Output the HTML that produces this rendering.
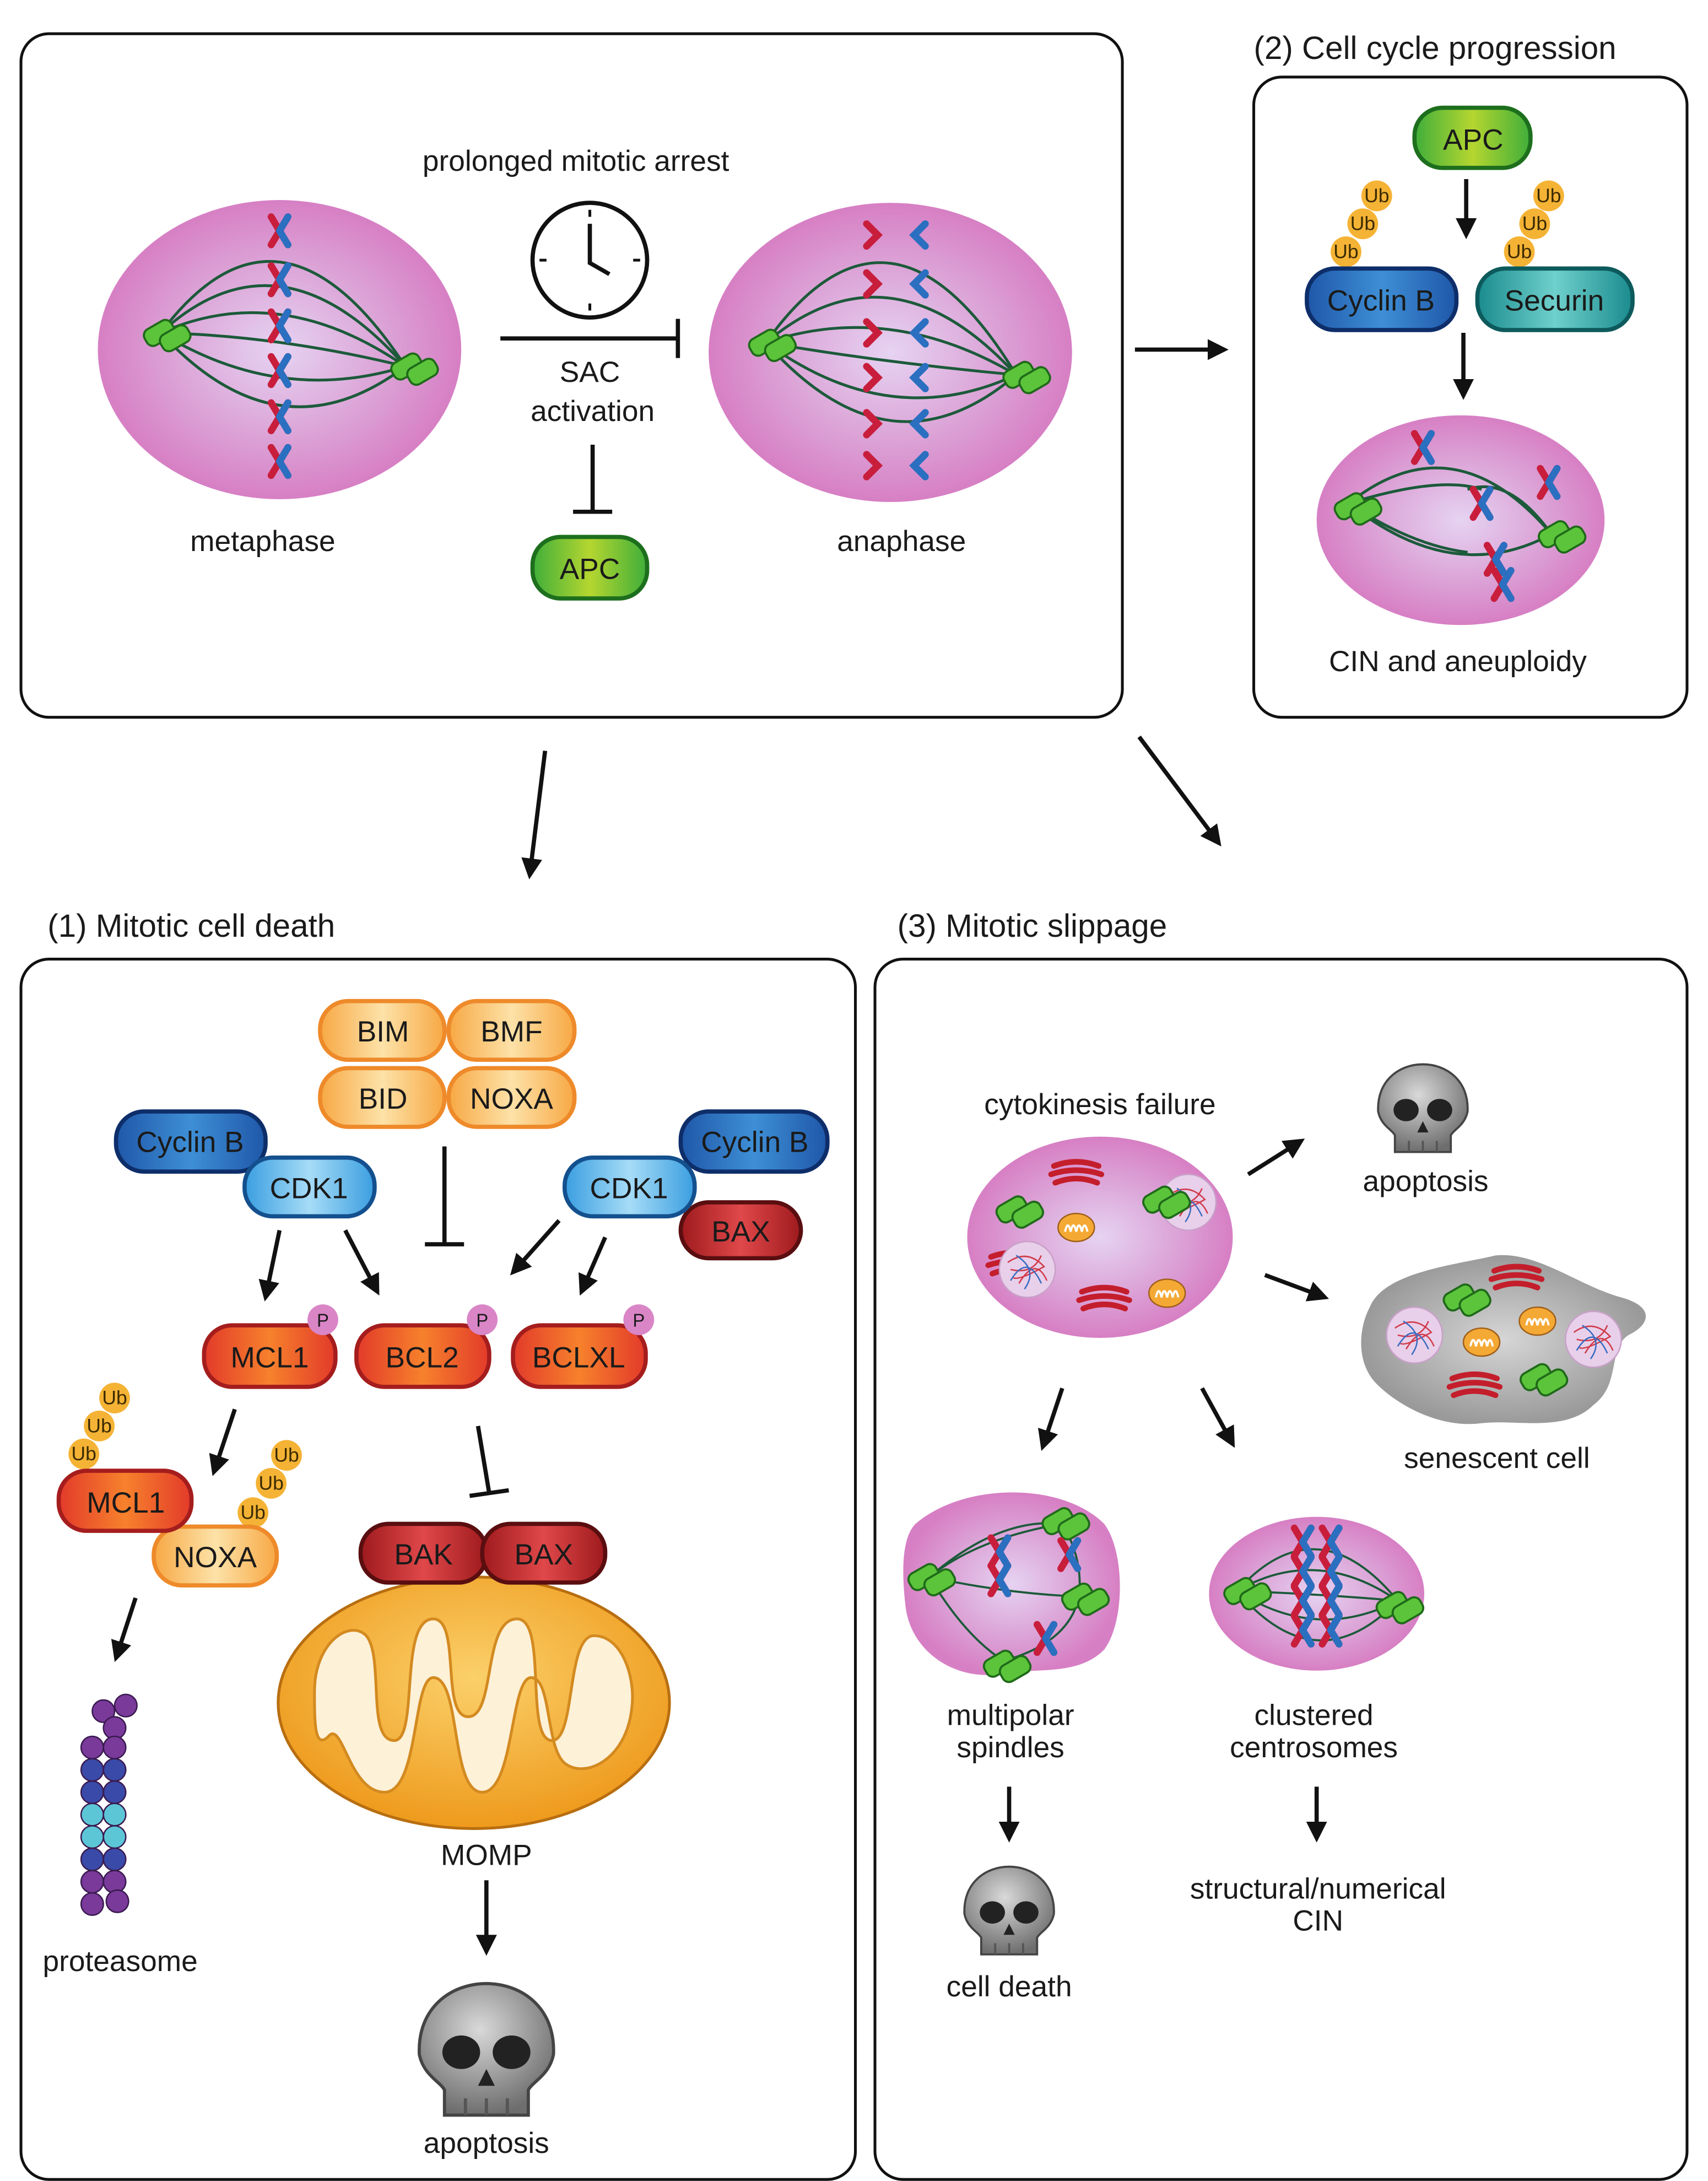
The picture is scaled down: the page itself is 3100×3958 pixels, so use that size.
<!DOCTYPE html>
<html><head><meta charset="utf-8"><style>
html,body{margin:0;padding:0;background:#fff}
svg{display:block}
text{font-family:"Liberation Sans",sans-serif;fill:#1a1a1a}
</style></head><body>
<svg width="3100" height="3958" viewBox="0 0 1222 1560" xmlns="http://www.w3.org/2000/svg">
<defs>
<radialGradient id="cell" cx="50%" cy="50%" r="50%"><stop offset="0" stop-color="#e6d3f2"/><stop offset="0.55" stop-color="#dca6d8"/><stop offset="1" stop-color="#d77fc4"/></radialGradient>
<radialGradient id="grey" cx="50%" cy="50%" r="50%"><stop offset="0" stop-color="#d6d6d6"/><stop offset="1" stop-color="#9a9a9a"/></radialGradient>
<linearGradient id="green" x1="0" x2="1"><stop offset="0" stop-color="#3fae3a"/><stop offset="0.5" stop-color="#b5d630"/><stop offset="1" stop-color="#3fae3a"/></linearGradient>
<linearGradient id="blue" x1="0" x2="1"><stop offset="0" stop-color="#1f57a8"/><stop offset="0.5" stop-color="#3e8fd6"/><stop offset="1" stop-color="#1f57a8"/></linearGradient>
<linearGradient id="lblue" x1="0" x2="1"><stop offset="0" stop-color="#3a9ee0"/><stop offset="0.5" stop-color="#a6dcf7"/><stop offset="1" stop-color="#3a9ee0"/></linearGradient>
<linearGradient id="teal" x1="0" x2="1"><stop offset="0" stop-color="#1a8b8e"/><stop offset="0.5" stop-color="#6fd0cc"/><stop offset="1" stop-color="#1a8b8e"/></linearGradient>
<linearGradient id="orange" x1="0" x2="1"><stop offset="0" stop-color="#f7a844"/><stop offset="0.5" stop-color="#fde2a8"/><stop offset="1" stop-color="#f7a844"/></linearGradient>
<linearGradient id="redor" x1="0" x2="1"><stop offset="0" stop-color="#e23a2a"/><stop offset="0.5" stop-color="#f7812c"/><stop offset="1" stop-color="#e23a2a"/></linearGradient>
<linearGradient id="red" x1="0" x2="1"><stop offset="0" stop-color="#9e1a1d"/><stop offset="0.5" stop-color="#e0484a"/><stop offset="1" stop-color="#9e1a1d"/></linearGradient>
<radialGradient id="mito" cx="50%" cy="40%" r="60%"><stop offset="0" stop-color="#fbd06a"/><stop offset="1" stop-color="#ee9a1c"/></radialGradient>
<radialGradient id="skull" cx="45%" cy="35%" r="65%"><stop offset="0" stop-color="#d9d9d9"/><stop offset="1" stop-color="#6e6e6e"/></radialGradient>
<marker id="ar" viewBox="0 0 10 10" refX="8" refY="5" markerWidth="5" markerHeight="5" orient="auto"><path d="M0,0 L10,5 L0,10 z" fill="#111"/></marker>
<g id="xr"><path d="M-6,-10 L6,10 M6,-10 L-6,10" stroke="#c81e3c" stroke-width="5" stroke-linecap="round"/><path d="M0,0 L6,-10 M0,0 L6,10" stroke="#2b6fc0" stroke-width="5" stroke-linecap="round"/></g>
<g id="cent"><rect x="-12" y="-7" width="22" height="13" rx="5" fill="#5cc43a" stroke="#1f6a1a" stroke-width="1.5" transform="rotate(-30)"/><rect x="-4" y="2" width="22" height="13" rx="5" fill="#5cc43a" stroke="#1f6a1a" stroke-width="1.5" transform="rotate(-30)"/></g>
<g id="ub"><circle r="11" fill="#f5b335"/><text y="4.5" text-anchor="middle" font-size="14" style="fill:#3a2a00">Ub</text></g>
<g id="p"><circle r="11" fill="#d985c6"/><text y="5" text-anchor="middle" font-size="13">P</text></g>
<g id="skl"><path d="M-32,5 C-34,-40 34,-40 32,5 C30,15 22,18 20,22 L20,34 L-20,34 L-20,22 C-22,18 -30,15 -32,5 Z" fill="url(#skull)" stroke="#444" stroke-width="1.5"/><ellipse cx="-12" cy="4" rx="9" ry="8" fill="#222"/><ellipse cx="12" cy="4" rx="9" ry="8" fill="#222"/><path d="M0,12 L-4,20 L4,20 Z" fill="#222"/><path d="M-10,26 V34 M0,26 V34 M10,26 V34" stroke="#555" stroke-width="1.5"/></g>
<g id="mt"><ellipse rx="13" ry="10" fill="#f5a935" stroke="#a0601a" stroke-width="1"/><path d="M-8,3 Q-6,-6 -4,3 Q-2,-6 0,3 Q2,-6 4,3 Q6,-6 8,3" fill="none" stroke="#fff" stroke-width="1.5"/></g>
<g id="gol"><path d="M-16,-6 Q0,-12 16,-6 M-18,0 Q0,-6 18,0 M-15,6 Q0,0 15,6" fill="none" stroke="#c41e2c" stroke-width="4" stroke-linecap="round"/></g>
<g id="nuc"><circle r="20" fill="#e8d0ea" stroke="#c9a0c9" stroke-width="1"/><path d="M-14,-5 Q0,-15 12,-2 Q-6,8 -10,6 M-6,10 Q6,-10 14,8 M-12,0 Q4,4 10,-10" fill="none" stroke="#d23a4a" stroke-width="1"/><path d="M-12,8 Q0,-12 10,10 M-8,-10 Q8,0 -2,14" fill="none" stroke="#3a6bc0" stroke-width="1"/></g>
</defs>

<g fill="none" stroke="#111" stroke-width="2">
<rect x="15" y="24" width="788" height="489" rx="20"/>
<rect x="897" y="55" width="310" height="458" rx="20"/>
<rect x="15" y="686" width="597" height="873" rx="20"/>
<rect x="626" y="686" width="581" height="873" rx="20"/>
</g>
<text x="897" y="42" font-size="23">(2) Cell cycle progression</text>
<text x="34" y="670" font-size="23">(1) Mitotic cell death</text>
<text x="642" y="670" font-size="23">(3) Mitotic slippage</text>

<ellipse cx="200" cy="250" rx="130" ry="107" fill="url(#cell)"/>
<g fill="none" stroke="#1c5a3a" stroke-width="2">
<path d="M115,238 Q200,125 290,262"/><path d="M115,238 Q200,160 290,262"/><path d="M115,238 Q200,200 290,262"/><path d="M115,238 Q200,240 290,262"/><path d="M115,238 Q200,290 290,262"/><path d="M115,238 Q200,330 290,262"/>
</g>
<use href="#cent" x="115" y="238"/><use href="#cent" x="292" y="262"/>
<use href="#xr" x="200" y="165"/><use href="#xr" x="200" y="200"/><use href="#xr" x="200" y="233"/><use href="#xr" x="200" y="265"/><use href="#xr" x="200" y="298"/><use href="#xr" x="200" y="330"/>
<text x="188" y="394" font-size="21" text-anchor="middle">metaphase</text>

<text x="412" y="122" font-size="21" text-anchor="middle">prolonged mitotic arrest</text>
<circle cx="422" cy="186" r="41" fill="#fff" stroke="#111" stroke-width="3"/>
<g stroke="#111" stroke-width="2"><path d="M422,150v5M422,217v5M386,186h5M453,186h5"/></g>
<path d="M422,160 V188 L436,196" fill="none" stroke="#111" stroke-width="3"/>
<path d="M358,242 H485 M485,228 V256" stroke="#111" stroke-width="3" fill="none"/>
<text x="422" y="273" font-size="21" text-anchor="middle">SAC</text>
<text x="424" y="301" font-size="21" text-anchor="middle">activation</text>
<path d="M424,318 V366 M410,366 H438" stroke="#111" stroke-width="3" fill="none"/>
<rect x="381" y="384" width="82" height="44" rx="20" fill="url(#green)" stroke="#1d6f1d" stroke-width="3"/>
<text x="422" y="414" font-size="21" text-anchor="middle">APC</text>

<ellipse cx="637" cy="252" rx="130" ry="107" fill="url(#cell)"/>
<g fill="none" stroke="#1c5a3a" stroke-width="2">
<path d="M548,245 Q637,120 727,268"/><path d="M548,245 Q637,170 727,268"/><path d="M548,245 Q637,215 727,268"/><path d="M548,245 Q637,260 727,268"/><path d="M548,245 Q637,310 727,268"/><path d="M548,245 Q637,345 727,268"/>
</g>
<use href="#cent" x="548" y="245"/><use href="#cent" x="730" y="268"/>
<g fill="none" stroke="#c81e3c" stroke-width="5" stroke-linecap="round">
<path d="M620,160 l8,8 l-8,8"/><path d="M620,195 l8,8 l-8,8"/><path d="M620,230 l8,8 l-8,8"/><path d="M620,262 l8,8 l-8,8"/><path d="M620,295 l8,8 l-8,8"/><path d="M620,325 l8,8 l-8,8"/></g>
<g fill="none" stroke="#2b6fc0" stroke-width="5" stroke-linecap="round">
<path d="M662,160 l-8,8 l8,8"/><path d="M662,195 l-8,8 l8,8"/><path d="M662,230 l-8,8 l8,8"/><path d="M662,262 l-8,8 l8,8"/><path d="M662,295 l-8,8 l8,8"/><path d="M662,325 l-8,8 l8,8"/></g>
<text x="645" y="394" font-size="21" text-anchor="middle">anaphase</text>

<g stroke="#111" stroke-width="3" fill="none" marker-end="url(#ar)">
<path d="M812,250 H876"/>
<path d="M390,537 L379,626"/>
<path d="M815,527 L872,603"/>
</g>

<rect x="1012" y="77" width="83" height="43" rx="20" fill="url(#green)" stroke="#1d6f1d" stroke-width="3"/>
<text x="1054" y="107" font-size="21" text-anchor="middle">APC</text>
<path d="M1049,128 V168" stroke="#111" stroke-width="3" marker-end="url(#ar)"/>
<use href="#ub" x="985" y="140"/><use href="#ub" x="975" y="160"/><use href="#ub" x="963" y="180"/>
<use href="#ub" x="1108" y="140"/><use href="#ub" x="1098" y="160"/><use href="#ub" x="1087" y="180"/>
<rect x="935" y="192" width="107" height="44" rx="20" fill="url(#blue)" stroke="#0e2e6a" stroke-width="3"/>
<text x="988" y="222" font-size="21" text-anchor="middle">Cyclin B</text>
<rect x="1057" y="192" width="111" height="44" rx="20" fill="url(#teal)" stroke="#0d5a5c" stroke-width="3"/>
<text x="1112" y="222" font-size="21" text-anchor="middle">Securin</text>
<path d="M1047,238 V283" stroke="#111" stroke-width="3" marker-end="url(#ar)"/>
<ellipse cx="1045" cy="372" rx="103" ry="75" fill="url(#cell)"/>
<g fill="none" stroke="#1c5a3a" stroke-width="2">
<path d="M965,360 Q1040,300 1110,382"/><path d="M965,360 Q1030,340 1060,350"/><path d="M965,360 Q1040,420 1110,382"/><path d="M965,360 Q1010,390 1050,395"/><path d="M1110,382 Q1080,340 1050,350"/>
</g>
<use href="#cent" x="967" y="362"/><use href="#cent" x="1113" y="382"/>
<use href="#xr" x="1018" y="320"/><use href="#xr" x="1108" y="345"/><use href="#xr" x="1070" y="400"/><use href="#xr" x="1075" y="418"/><use href="#xr" x="1060" y="360"/>
<text x="1043" y="480" font-size="21" text-anchor="middle">CIN and aneuploidy</text>

<g stroke="#ee8a2a" stroke-width="3" fill="url(#orange)">
<rect x="229" y="716" width="89" height="42" rx="20"/><rect x="321" y="716" width="90" height="42" rx="20"/>
<rect x="229" y="764" width="89" height="42" rx="20"/><rect x="321" y="764" width="90" height="42" rx="20"/>
</g>
<g font-size="21" text-anchor="middle">
<text x="274" y="745">BIM</text><text x="366" y="745">BMF</text><text x="274" y="793">BID</text><text x="366" y="793">NOXA</text></g>
<path d="M318,820 V890 M304,890 H332" stroke="#111" stroke-width="3" fill="none"/>
<rect x="83" y="795" width="107" height="43" rx="20" fill="url(#blue)" stroke="#0e2e6a" stroke-width="3"/>
<text x="136" y="824" font-size="21" text-anchor="middle">Cyclin B</text>
<rect x="175" y="828" width="93" height="42" rx="20" fill="url(#lblue)" stroke="#14508e" stroke-width="3"/>
<text x="221" y="857" font-size="21" text-anchor="middle">CDK1</text>
<rect x="487" y="795" width="105" height="43" rx="20" fill="url(#blue)" stroke="#0e2e6a" stroke-width="3"/>
<text x="540" y="824" font-size="21" text-anchor="middle">Cyclin B</text>
<rect x="487" y="860" width="86" height="40" rx="20" fill="url(#red)" stroke="#5a0e10" stroke-width="3"/>
<text x="530" y="888" font-size="21" text-anchor="middle">BAX</text>
<rect x="404" y="828" width="93" height="42" rx="20" fill="url(#lblue)" stroke="#14508e" stroke-width="3"/>
<text x="450" y="857" font-size="21" text-anchor="middle">CDK1</text>
<g stroke="#111" stroke-width="3" fill="none" marker-end="url(#ar)">
<path d="M200,880 L190,928"/><path d="M247,880 L270,924"/><path d="M400,873 L367,910"/><path d="M433,885 L416,924"/>
<path d="M168,1008 L153,1053"/><path d="M97,1143 L83,1186"/><path d="M348,1345 V1396"/>
</g>
<g stroke="#a51d1d" stroke-width="3" fill="url(#redor)">
<rect x="146" y="948" width="94" height="44" rx="20"/><rect x="255" y="948" width="95" height="44" rx="20"/><rect x="367" y="948" width="95" height="44" rx="20"/>
</g>
<g font-size="21" text-anchor="middle"><text x="193" y="978">MCL1</text><text x="302" y="978">BCL2</text><text x="414" y="978">BCLXL</text></g>
<use href="#p" x="231" y="944"/><use href="#p" x="345" y="944"/><use href="#p" x="457" y="944"/>
<use href="#ub" x="82" y="1000"/><use href="#ub" x="71" y="1020"/><use href="#ub" x="60" y="1040"/>
<use href="#ub" x="205" y="1041"/><use href="#ub" x="194" y="1061"/><use href="#ub" x="181" y="1082"/>
<rect x="110" y="1092" width="88" height="42" rx="20" fill="url(#orange)" stroke="#ee8a2a" stroke-width="3"/>
<text x="154" y="1121" font-size="21" text-anchor="middle">NOXA</text>
<rect x="42" y="1052" width="95" height="43" rx="20" fill="url(#redor)" stroke="#a51d1d" stroke-width="3"/>
<text x="90" y="1082" font-size="21" text-anchor="middle">MCL1</text>
<g stroke="#3a1a50" stroke-width="1">
<circle cx="74" cy="1224" r="8" fill="#7a3a9a"/><circle cx="90" cy="1220" r="8" fill="#7a3a9a"/><circle cx="82" cy="1236" r="8" fill="#7a3a9a"/>
<g fill="#7a3a9a"><circle cx="66" cy="1250" r="8"/><circle cx="82" cy="1250" r="8"/></g>
<g fill="#3a4aa8"><circle cx="66" cy="1266" r="8"/><circle cx="82" cy="1266" r="8"/><circle cx="66" cy="1282" r="8"/><circle cx="82" cy="1282" r="8"/></g>
<g fill="#5cc6d6"><circle cx="66" cy="1298" r="8"/><circle cx="82" cy="1298" r="8"/><circle cx="66" cy="1314" r="8"/><circle cx="82" cy="1314" r="8"/></g>
<g fill="#3a4aa8"><circle cx="66" cy="1330" r="8"/><circle cx="82" cy="1330" r="8"/></g>
<g fill="#7a3a9a"><circle cx="66" cy="1346" r="8"/><circle cx="82" cy="1346" r="8"/><circle cx="66" cy="1362" r="8"/><circle cx="84" cy="1360" r="8"/></g>
</g>
<text x="86" y="1410" font-size="21" text-anchor="middle">proteasome</text>
<path d="M342,1020 L350,1068 M336,1070 L364,1066" stroke="#111" stroke-width="3" fill="none"/>
<ellipse cx="339" cy="1218" rx="140" ry="90" fill="url(#mito)" stroke="#b86e10" stroke-width="2"/>
<path d="M225,1210 C225,1175 250,1158 262,1170 C275,1185 262,1245 282,1245 C300,1245 285,1158 310,1158 C330,1158 315,1228 335,1228 C355,1228 345,1158 370,1158 C392,1158 375,1245 395,1245 C412,1245 405,1170 425,1170 C445,1170 455,1200 452,1222 C448,1258 420,1272 405,1262 C390,1252 395,1200 380,1200 C365,1200 368,1282 345,1282 C322,1282 330,1200 310,1200 C295,1200 300,1282 275,1282 C250,1282 245,1230 235,1242 C225,1252 225,1232 225,1210 Z" fill="#fdf1d8" stroke="#d38a20" stroke-width="2"/>
<rect x="258" y="1090" width="90" height="42" rx="20" fill="url(#red)" stroke="#5a0e10" stroke-width="3"/>
<rect x="345" y="1090" width="88" height="42" rx="20" fill="url(#red)" stroke="#5a0e10" stroke-width="3"/>
<text x="303" y="1119" font-size="21" text-anchor="middle">BAK</text><text x="389" y="1119" font-size="21" text-anchor="middle">BAX</text>
<text x="348" y="1334" font-size="21" text-anchor="middle">MOMP</text>
<g transform="translate(348,1462) scale(1.5)"><use href="#skl"/></g>
<text x="348" y="1540" font-size="21" text-anchor="middle">apoptosis</text>

<text x="787" y="797" font-size="21" text-anchor="middle">cytokinesis failure</text>
<ellipse cx="787" cy="885" rx="95" ry="72" fill="url(#cell)"/>
<use href="#gol" x="770" y="840"/><use href="#gol" x="790" y="930"/><use href="#gol" x="725" y="905"/>
<use href="#mt" x="770" y="878"/><use href="#mt" x="835" y="925"/>
<use href="#nuc" x="735" y="908"/><use href="#nuc" x="850" y="860"/>
<use href="#cent" x="725" y="865"/><use href="#cent" x="830" y="858"/>
<g stroke="#111" stroke-width="3" fill="none" marker-end="url(#ar)">
<path d="M893,840 L931,816"/><path d="M905,912 L948,928"/><path d="M760,993 L746,1035"/><path d="M860,993 L882,1033"/><path d="M722,1278 V1315"/><path d="M942,1278 V1315"/>
</g>
<g transform="translate(1018,790)"><use href="#skl"/></g>
<text x="1020" y="852" font-size="21" text-anchor="middle">apoptosis</text>
<path d="M980,935 C990,910 1040,905 1070,898 C1100,895 1130,920 1160,928 C1185,935 1180,948 1165,955 C1150,965 1160,990 1140,1005 C1120,1025 1085,1015 1060,1018 C1030,1022 1000,1005 985,990 C970,975 972,950 980,935 Z" fill="url(#grey)"/>
<use href="#gol" x="1085" y="915"/><use href="#gol" x="1055" y="992"/>
<use href="#mt" x="1060" y="960"/><use href="#mt" x="1100" y="945"/>
<use href="#nuc" x="1012" y="955"/><use href="#nuc" x="1140" y="958"/>
<use href="#cent" x="1045" y="928"/><use href="#cent" x="1100" y="985"/>
<text x="1071" y="1050" font-size="21" text-anchor="middle">senescent cell</text>
<path d="M655,1090 C690,1060 760,1060 790,1090 C805,1110 805,1160 790,1180 C770,1200 740,1192 710,1198 C680,1200 652,1180 648,1150 C645,1125 645,1100 655,1090 Z" fill="url(#cell)"/>
<g fill="none" stroke="#1c5a3a" stroke-width="1.5">
<path d="M665,1128 Q715,1085 760,1090"/><path d="M665,1128 Q720,1140 772,1142"/><path d="M665,1128 Q690,1170 718,1188"/><path d="M760,1090 Q775,1115 772,1142"/><path d="M772,1142 Q765,1175 718,1188"/><path d="M665,1128 Q700,1100 760,1090"/>
</g>
<use href="#cent" x="662" y="1128"/><use href="#cent" x="758" y="1088"/><use href="#cent" x="772" y="1142"/><use href="#cent" x="716" y="1190"/>
<use href="#xr" x="715" y="1110"/><use href="#xr" x="715" y="1130"/><use href="#xr" x="765" y="1112"/><use href="#xr" x="748" y="1172"/>
<text x="723" y="1234" font-size="21" text-anchor="middle">multipolar</text>
<text x="723" y="1257" font-size="21" text-anchor="middle">spindles</text>
<g transform="translate(722,1364)"><use href="#skl"/></g>
<text x="722" y="1428" font-size="21" text-anchor="middle">cell death</text>
<ellipse cx="942" cy="1140" rx="77" ry="55" fill="url(#cell)"/>
<g fill="none" stroke="#1c5a3a" stroke-width="1.5">
<path d="M885,1138 Q942,1075 1000,1145"/><path d="M885,1138 Q942,1105 1000,1145"/><path d="M885,1138 Q942,1140 1000,1145"/><path d="M885,1138 Q942,1175 1000,1145"/><path d="M885,1138 Q942,1205 1000,1145"/>
</g>
<use href="#cent" x="888" y="1138"/><use href="#cent" x="997" y="1148"/>
<use href="#xr" x="932" y="1103"/><use href="#xr" x="952" y="1103"/>
<use href="#xr" x="932" y="1124"/><use href="#xr" x="952" y="1124"/>
<use href="#xr" x="932" y="1145"/><use href="#xr" x="952" y="1145"/>
<use href="#xr" x="932" y="1166"/><use href="#xr" x="952" y="1166"/>
<text x="940" y="1234" font-size="21" text-anchor="middle">clustered</text>
<text x="940" y="1257" font-size="21" text-anchor="middle">centrosomes</text>
<text x="943" y="1358" font-size="21" text-anchor="middle">structural/numerical</text>
<text x="943" y="1381" font-size="21" text-anchor="middle">CIN</text>
</svg>
</body></html>
